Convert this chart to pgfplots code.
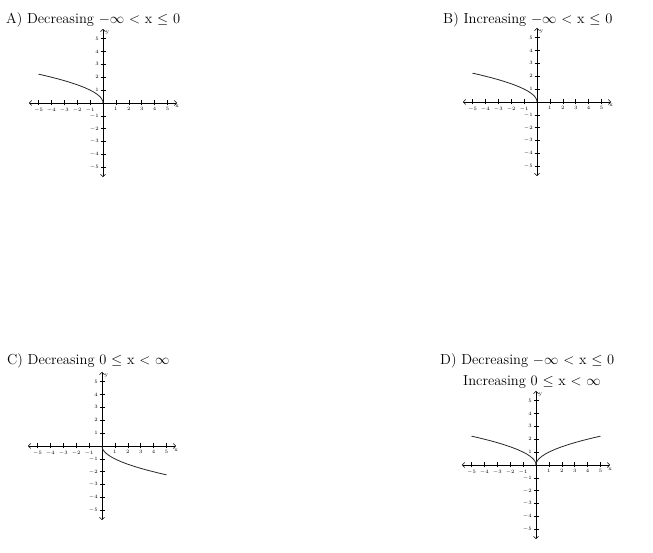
\documentclass[border=0pt]{standalone}
\usepackage{pgfplots}
\pgfplotsset{compat=1.18}
\usetikzlibrary{arrows.meta}
\begin{document}
\begin{tikzpicture}
\useasboundingbox (0,0) rectangle (653pt,553pt);
\pgfplotsset{
 myaxis/.style={
  x=12.9pt, y=12.9pt,
  xmin=-5.75, xmax=5.75, ymin=-5.75, ymax=5.75,
  axis lines=center,
  axis line style={line width=0.6pt, {Straight Barb[length=2.5pt,width=5pt]}-{Straight Barb[length=2.5pt,width=5pt]}},
  xtick={-5,-4,-3,-2,-1,1,2,3,4,5},
  ytick={-5,-4,-3,-2,-1,1,2,3,4,5},
  tick style={line width=0.6pt, black},
  major tick length=5pt,
  tick align=center,
  xticklabel style={font=\fontsize{5}{5}\selectfont, inner sep=1pt, yshift=-1pt},
  yticklabel style={font=\fontsize{5}{5}\selectfont, inner sep=1pt, xshift=-0.5pt},
  clip=false,
  anchor=origin,
 },
 curve/.style={line width=0.8pt, color=black!85},
}
\newcommand{\axlabels}{%
  \node[font=\fontsize{5.5}{5.5}\selectfont, anchor=north west, inner sep=0.5pt] at (axis cs:5.55,-0.15) {x};
  \node[font=\fontsize{5.5}{5.5}\selectfont, anchor=west, inner sep=0.5pt] at (axis cs:0.15,5.4) {y};
}
% Titles
\node[anchor=base west, inner sep=0pt, font=\fontsize{14.5}{17}\selectfont] at (6pt,529pt) {A) Decreasing $-\infty$ < x $\leq$ 0};
\node[anchor=base west, inner sep=0pt, font=\fontsize{14.5}{17}\selectfont] at (443pt,529pt) {B) Increasing $-\infty$ < x $\leq$ 0};
\node[anchor=base west, inner sep=0pt, font=\fontsize{14.5}{17}\selectfont] at (7pt,188pt) {C) Decreasing 0 $\leq$ x < $\infty$};
\node[anchor=base west, inner sep=0pt, font=\fontsize{14.5}{17}\selectfont] at (440pt,188pt) {D) Decreasing $-\infty$ < x $\leq$ 0};
\node[anchor=base west, inner sep=0pt, font=\fontsize{14.5}{17}\selectfont] at (463pt,167pt) {Increasing 0 $\leq$ x < $\infty$};
% A
\begin{axis}[myaxis, at={(103pt,450pt)}]
\addplot[curve] coordinates {(-5,2.2361) (-4.5,2.1213) (-4,2.0) (-3.5,1.8708) (-3,1.7321) (-2.5,1.5811) (-2,1.4142) (-1.5,1.2247) (-1,1.0) (-0.75,0.8660) (-0.5,0.7071) (-0.3,0.5477) (-0.2,0.4472) (-0.1,0.3162) (-0.05,0.2236) (-0.02,0.1414) (0,0)};
\axlabels
\end{axis}
% B
\begin{axis}[myaxis, at={(537pt,451pt)}]
\addplot[curve] coordinates {(-5,2.2361) (-4.5,2.1213) (-4,2.0) (-3.5,1.8708) (-3,1.7321) (-2.5,1.5811) (-2,1.4142) (-1.5,1.2247) (-1,1.0) (-0.75,0.8660) (-0.5,0.7071) (-0.3,0.5477) (-0.2,0.4472) (-0.1,0.3162) (-0.05,0.2236) (-0.02,0.1414) (0,0)};
\axlabels
\end{axis}
% C
\begin{axis}[myaxis, at={(102pt,107pt)}]
\addplot[curve] coordinates {(0,0) (0.02,-0.1414) (0.05,-0.2236) (0.1,-0.3162) (0.2,-0.4472) (0.3,-0.5477) (0.5,-0.7071) (0.75,-0.8660) (1,-1.0) (1.5,-1.2247) (2,-1.4142) (2.5,-1.5811) (3,-1.7321) (3.5,-1.8708) (4,-2.0) (4.5,-2.1213) (5,-2.2361)};
\axlabels
\end{axis}
% D
\begin{axis}[myaxis, at={(536pt,88pt)}]
\addplot[curve] coordinates {(-5,2.2361) (-4.5,2.1213) (-4,2.0) (-3.5,1.8708) (-3,1.7321) (-2.5,1.5811) (-2,1.4142) (-1.5,1.2247) (-1,1.0) (-0.75,0.8660) (-0.5,0.7071) (-0.3,0.5477) (-0.2,0.4472) (-0.1,0.3162) (-0.05,0.2236) (-0.02,0.1414) (0,0)};
\addplot[curve] coordinates {(0,0) (0.02,0.1414) (0.05,0.2236) (0.1,0.3162) (0.2,0.4472) (0.3,0.5477) (0.5,0.7071) (0.75,0.8660) (1,1.0) (1.5,1.2247) (2,1.4142) (2.5,1.5811) (3,1.7321) (3.5,1.8708) (4,2.0) (4.5,2.1213) (5,2.2361)};
\axlabels
\end{axis}
\end{tikzpicture}
\end{document}
